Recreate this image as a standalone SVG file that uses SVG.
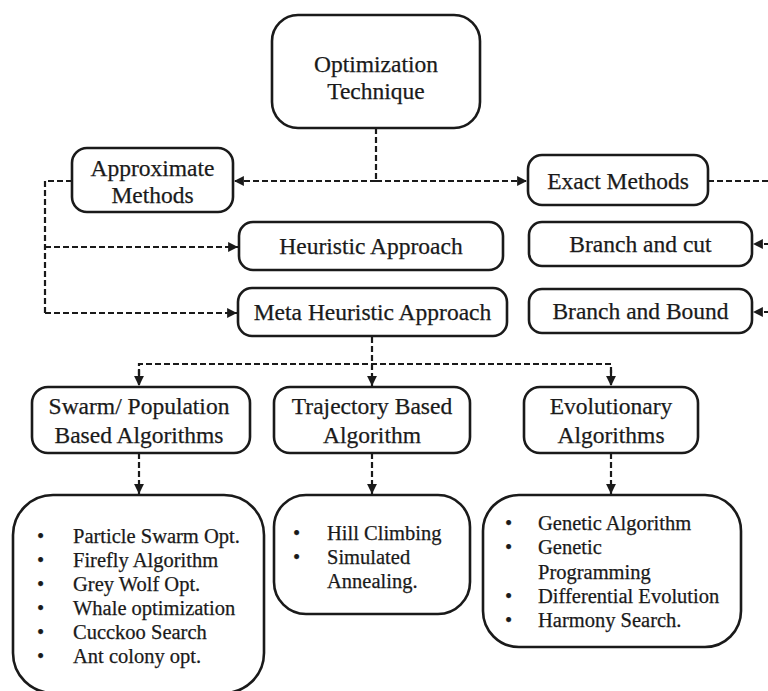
<svg xmlns="http://www.w3.org/2000/svg" width="768" height="691" viewBox="0 0 768 691">
  <style>
    .box { fill: #ffffff; stroke: #1a1a1a; stroke-width: 2.6; }
    .t { font-family: "Liberation Serif", "Times New Roman", serif; font-size: 23.5px; fill: #1a1a1a; stroke: #1a1a1a; stroke-width: 0.25; text-anchor: middle; }
    .li { font-family: "Liberation Serif", "Times New Roman", serif; font-size: 20.5px; fill: #1a1a1a; stroke: #1a1a1a; stroke-width: 0.25; }
    .edge { fill: none; stroke: #1a1a1a; stroke-width: 2.2; stroke-dasharray: 6 3; }
    .arr { marker-end: url(#head); }
  </style>
  <defs>
    <marker id="head" viewBox="0 0 10 10" refX="10" refY="5" markerWidth="4.5" markerHeight="4.5" orient="auto" markerUnits="strokeWidth">
      <path d="M0,0 L10,5 L0,10 z" fill="#1a1a1a"/>
    </marker>
  </defs>
  <rect width="768" height="691" fill="#ffffff"/>

  <g id="connectors">
    <path class="edge" d="M376,128 V181"/>
    <path class="edge arr" d="M376,181 H234"/>
    <path class="edge arr" d="M376,181 H527"/>
    <path class="edge" d="M72,181 H45 V313"/>
    <path class="edge arr" d="M45,247 H238"/>
    <path class="edge arr" d="M45,313 H237"/>
    <path class="edge" d="M708,181 H770"/>
    <path class="edge arr" d="M770,244 H753"/>
    <path class="edge arr" d="M770,312 H753"/>
    <path class="edge" d="M372,337 V364"/>
    <path class="edge" d="M139,384 V364 H611 V384"/>
    <path class="edge arr" d="M139,370 V386"/>
    <path class="edge arr" d="M372,364 V386"/>
    <path class="edge arr" d="M611,370 V386"/>
    <path class="edge arr" d="M139,453 V494"/>
    <path class="edge arr" d="M372,453 V494"/>
    <path class="edge arr" d="M611,453 V494"/>
  </g>

  <g id="optimization-technique">
    <rect class="box" x="272" y="15" width="208" height="113" rx="26"/>
    <text class="t" x="376" y="72">Optimization</text>
    <text class="t" x="376" y="99">Technique</text>
  </g>

  <g id="approximate-methods">
    <rect class="box" x="72" y="148" width="161" height="64" rx="15"/>
    <text class="t" x="152.5" y="176">Approximate</text>
    <text class="t" x="152.5" y="203">Methods</text>
  </g>

  <g id="exact-methods">
    <rect class="box" x="528" y="155" width="180" height="50" rx="14"/>
    <text class="t" x="618" y="189">Exact Methods</text>
  </g>

  <g id="heuristic-approach">
    <rect class="box" x="239" y="222" width="264" height="48" rx="14"/>
    <text class="t" x="371" y="254">Heuristic Approach</text>
  </g>

  <g id="meta-heuristic-approach">
    <rect class="box" x="238" y="288" width="269" height="48" rx="14"/>
    <text class="t" x="372.5" y="320">Meta Heuristic Approach</text>
  </g>

  <g id="branch-and-cut">
    <rect class="box" x="529" y="222" width="223" height="44" rx="13"/>
    <text class="t" x="640.5" y="252">Branch and cut</text>
  </g>

  <g id="branch-and-bound">
    <rect class="box" x="529" y="289" width="223" height="44" rx="13"/>
    <text class="t" x="640.5" y="319">Branch and Bound</text>
  </g>

  <g id="swarm-population">
    <rect class="box" x="32" y="387" width="218" height="66" rx="16"/>
    <text class="t" x="139" y="414">Swarm/ Population</text>
    <text class="t" x="139" y="443">Based Algorithms</text>
  </g>

  <g id="trajectory-based">
    <rect class="box" x="274" y="387" width="196" height="66" rx="16"/>
    <text class="t" x="372" y="414">Trajectory Based</text>
    <text class="t" x="372" y="443">Algorithm</text>
  </g>

  <g id="evolutionary">
    <rect class="box" x="524" y="387" width="174" height="66" rx="16"/>
    <text class="t" x="611" y="414">Evolutionary</text>
    <text class="t" x="611" y="443">Algorithms</text>
  </g>

  <g id="swarm-list">
    <rect class="box" x="13" y="495" width="251" height="198" rx="40"/>
    <text class="li" x="37" y="543">•</text><text class="li" x="73" y="543">Particle Swarm Opt.</text>
    <text class="li" x="37" y="567">•</text><text class="li" x="73" y="567">Firefly Algorithm</text>
    <text class="li" x="37" y="591">•</text><text class="li" x="73" y="591">Grey Wolf Opt.</text>
    <text class="li" x="37" y="615">•</text><text class="li" x="73" y="615">Whale optimization</text>
    <text class="li" x="37" y="639">•</text><text class="li" x="73" y="639">Cucckoo Search</text>
    <text class="li" x="37" y="663">•</text><text class="li" x="73" y="663">Ant colony opt.</text>
  </g>

  <g id="trajectory-list">
    <rect class="box" x="274" y="495" width="196" height="119" rx="32"/>
    <text class="li" x="293" y="540">•</text><text class="li" x="327" y="540">Hill Climbing</text>
    <text class="li" x="293" y="564">•</text><text class="li" x="327" y="564">Simulated</text>
    <text class="li" x="327" y="588">Annealing.</text>
  </g>

  <g id="evolutionary-list">
    <rect class="box" x="483" y="495" width="258" height="152" rx="36"/>
    <text class="li" x="505" y="530">•</text><text class="li" x="538" y="530">Genetic Algorithm</text>
    <text class="li" x="505" y="554">•</text><text class="li" x="538" y="554">Genetic</text>
    <text class="li" x="538" y="579">Programming</text>
    <text class="li" x="505" y="603">•</text><text class="li" x="538" y="603">Differential Evolution</text>
    <text class="li" x="505" y="627">•</text><text class="li" x="538" y="627">Harmony Search.</text>
  </g>
</svg>
